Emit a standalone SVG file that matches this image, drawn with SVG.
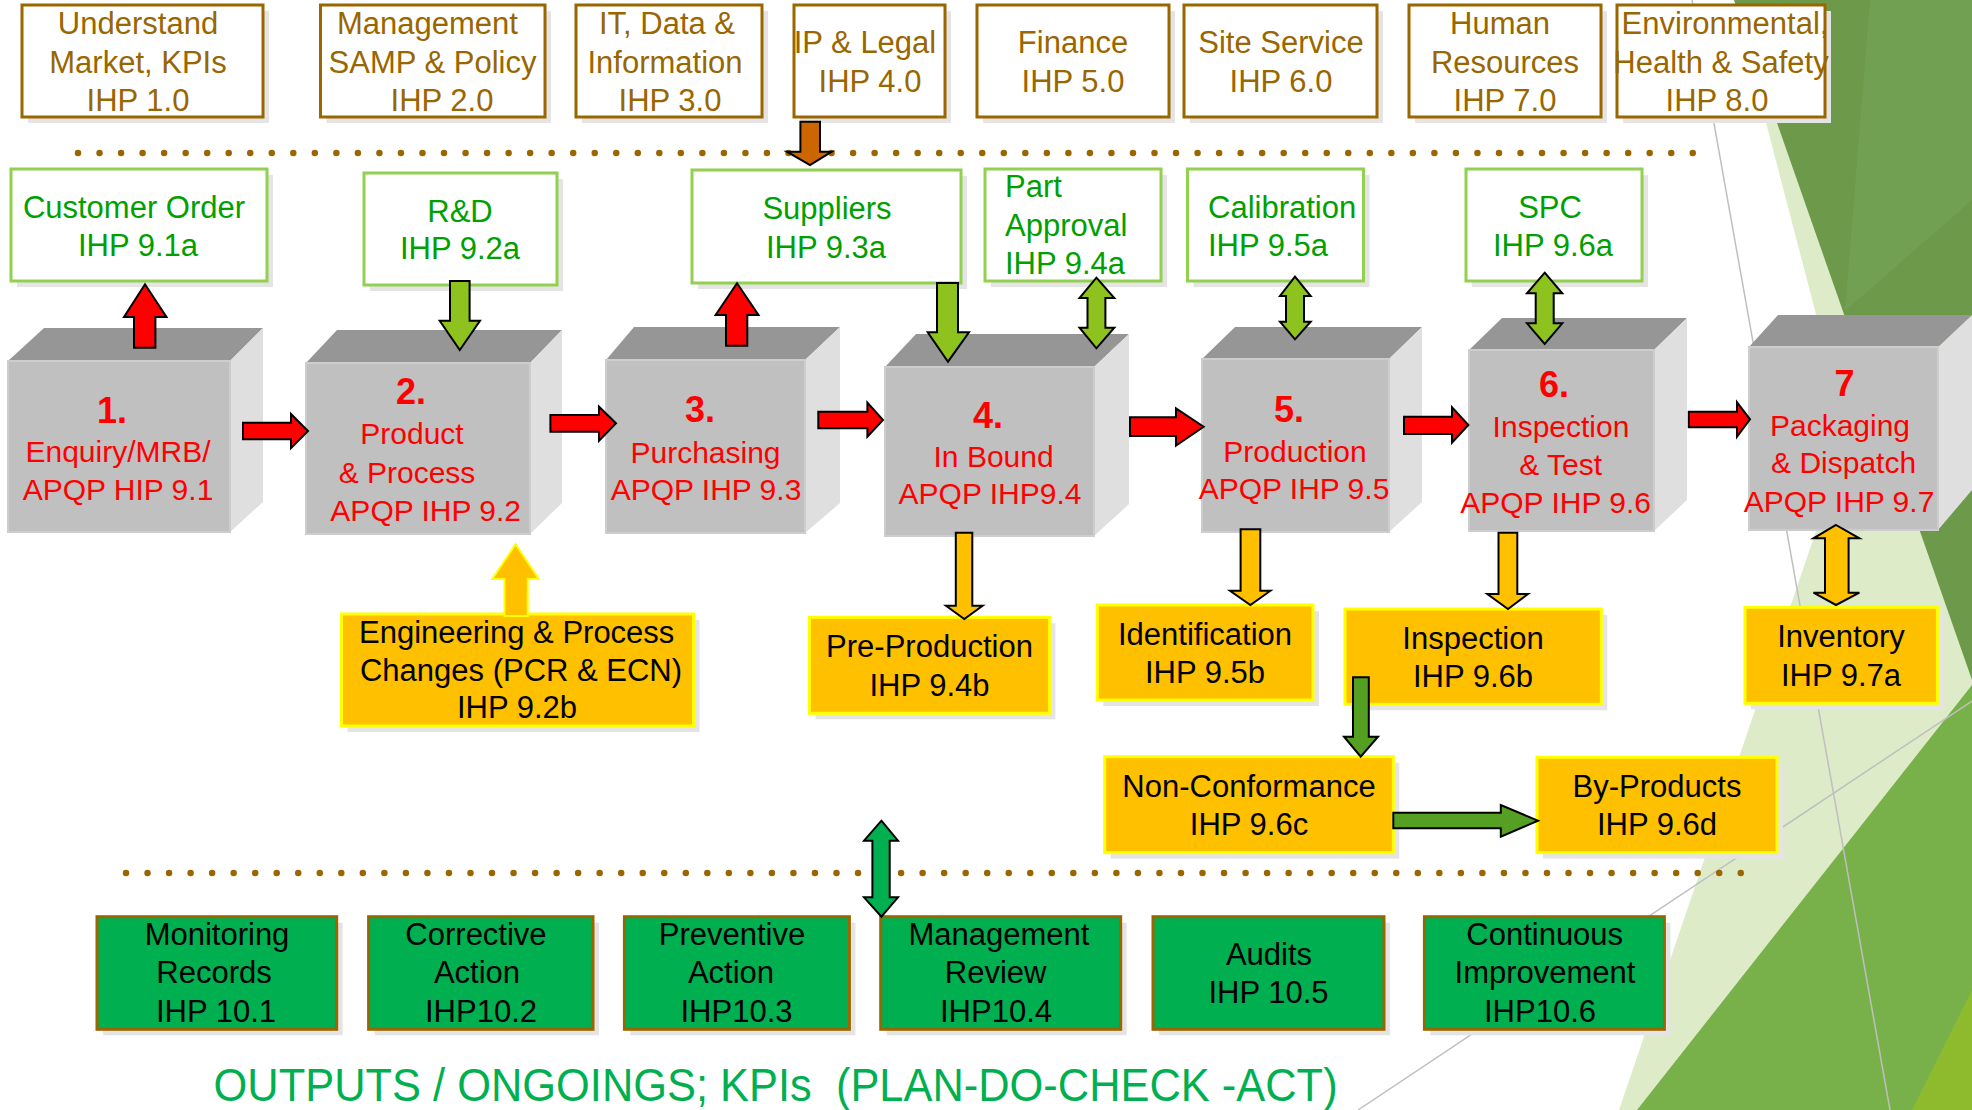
<svg xmlns="http://www.w3.org/2000/svg" width="1972" height="1110" viewBox="0 0 1972 1110">
  <style>
    text { font-family: "Liberation Sans", Arial, sans-serif; text-anchor: middle; }
    .sh { fill: #E4E4E4; }
    .tb { fill: #FFFFFF; stroke: #996600; stroke-width: 3; }
    .tt { font-size: 31px; fill: #996600; }
    .gb { fill: #FFFFFF; stroke: #92D050; stroke-width: 3; }
    .gt { font-size: 31px; fill: #00A000; }
    .ctop { fill: #969696; }
    .cfront { fill: #C0C0C0; stroke: #CDCDCD; stroke-width: 2; }
    .cside { fill: #DFDFDF; }
    .rn { font-size: 36px; font-weight: bold; fill: #FF0000; }
    .rt { font-size: 30px; fill: #FF0000; }
    .yb { fill: #FFC000; stroke: #FFFF00; stroke-width: 3; }
    .kb { fill: #00B050; stroke: #996600; stroke-width: 3; }
    .bt { font-size: 31px; fill: #000000; }
    .dots { fill: none; stroke: #996600; stroke-width: 6.5; stroke-linecap: round; stroke-dasharray: 0 21.53; }
    .ar { stroke: #000000; stroke-width: 2; stroke-linejoin: miter; }
    .red { fill: #FF0000; }
    .lg { fill: #8DC21F; }
    .dg { fill: #55A022; }
    .yl { fill: #FFC000; }
    .kg { fill: #00B050; }
    .br { fill: #CC6600; }
    .bgline { stroke: #BFBFBF; stroke-width: 1.5; fill: none; }
  </style>

  <!-- facet backdrop on the right -->
  <g id="backdrop">
    <rect x="0" y="0" width="1972" height="1110" fill="#FFFFFF"/>
    <polygon points="1734,0 1848,437 1619,1110 1972,1110 1972,0" fill="#DEEBC8"/>
    <polygon points="1734,0 1972,0 1972,680" fill="#6C9A4A"/>
    <polygon points="1870,0 1972,0 1972,200 1845,311" fill="#72A052"/>
    <polygon points="1637,1110 1972,685 1972,1110" fill="#78B04A"/>
    <polygon points="1912,1110 1972,990 1972,1110" fill="#8DBB2D"/>
    <line class="bgline" x1="1692" y1="0" x2="1890" y2="1110"/>
    <line class="bgline" x1="1358" y1="1110" x2="1972" y2="701"/>
  </g>

  <!-- dotted separators -->
  <g id="separators">
    <line class="dots" x1="78" y1="153" x2="1695" y2="153"/>
    <line class="dots" x1="126" y1="873" x2="1744" y2="873"/>
  </g>

  <!-- top row: support processes -->
  <g id="ihp-1-0">
    <rect class="sh" x="28" y="11" width="241" height="112"/>
    <rect class="tb" x="22" y="5" width="241" height="112"/>
    <text class="tt" x="138" y="34">Understand</text>
    <text class="tt" x="138" y="72.5">Market, KPIs</text>
    <text class="tt" x="138" y="110.5">IHP 1.0</text>
  </g>
  <g id="ihp-2-0">
    <rect class="sh" x="326.5" y="11" width="224.5" height="112"/>
    <rect class="tb" x="320.5" y="5" width="224.5" height="112"/>
    <text class="tt" x="427.5" y="34">Management</text>
    <text class="tt" x="432.5" y="72.5">SAMP &amp; Policy</text>
    <text class="tt" x="442" y="110.5">IHP 2.0</text>
  </g>
  <g id="ihp-3-0">
    <rect class="sh" x="582" y="11" width="186" height="112"/>
    <rect class="tb" x="576" y="5" width="186" height="112"/>
    <text class="tt" x="667" y="34">IT, Data &amp;</text>
    <text class="tt" x="665" y="72.5">Information</text>
    <text class="tt" x="670" y="110.5">IHP 3.0</text>
  </g>
  <g id="ihp-4-0">
    <rect class="sh" x="800" y="11" width="151" height="112"/>
    <rect class="tb" x="794" y="5" width="151" height="112"/>
    <text class="tt" x="865" y="53">IP &amp; Legal</text>
    <text class="tt" x="870" y="91.5">IHP 4.0</text>
  </g>
  <g id="ihp-5-0">
    <rect class="sh" x="983" y="11" width="192" height="112"/>
    <rect class="tb" x="977" y="5" width="192" height="112"/>
    <text class="tt" x="1073" y="53">Finance</text>
    <text class="tt" x="1073" y="91.5">IHP 5.0</text>
  </g>
  <g id="ihp-6-0">
    <rect class="sh" x="1190" y="11" width="193" height="112"/>
    <rect class="tb" x="1184" y="5" width="193" height="112"/>
    <text class="tt" x="1281" y="53">Site Service</text>
    <text class="tt" x="1281" y="91.5">IHP 6.0</text>
  </g>
  <g id="ihp-7-0">
    <rect class="sh" x="1415" y="11" width="192" height="112"/>
    <rect class="tb" x="1409" y="5" width="192" height="112"/>
    <text class="tt" x="1500" y="34">Human</text>
    <text class="tt" x="1505" y="72.5">Resources</text>
    <text class="tt" x="1505" y="110.5">IHP 7.0</text>
  </g>
  <g id="ihp-8-0">
    <rect class="sh" x="1623" y="11" width="208" height="112"/>
    <rect class="tb" x="1617" y="5" width="208" height="112"/>
    <text class="tt" x="1725" y="34">Environmental,</text>
    <text class="tt" x="1721" y="72.5">Health &amp; Safety</text>
    <text class="tt" x="1717" y="110.5">IHP 8.0</text>
  </g>

  <!-- second row: interfaces -->
  <g id="ihp-9-1a">
    <rect class="sh" x="17" y="175" width="256" height="112"/>
    <rect class="gb" x="11" y="169" width="256" height="112"/>
    <text class="gt" x="134" y="218">Customer Order</text>
    <text class="gt" x="138" y="256">IHP 9.1a</text>
  </g>
  <g id="ihp-9-2a">
    <rect class="sh" x="370" y="179" width="193" height="112"/>
    <rect class="gb" x="364" y="173" width="193" height="112"/>
    <text class="gt" x="460" y="221.7">R&amp;D</text>
    <text class="gt" x="460" y="259">IHP 9.2a</text>
  </g>
  <g id="ihp-9-3a">
    <rect class="sh" x="698" y="176" width="269" height="113"/>
    <rect class="gb" x="692" y="170" width="269" height="113"/>
    <text class="gt" x="827" y="219">Suppliers</text>
    <text class="gt" x="826" y="257.7">IHP 9.3a</text>
  </g>
  <g id="ihp-9-4a">
    <rect class="sh" x="991" y="175" width="176" height="112"/>
    <rect class="gb" x="985" y="169" width="176" height="112"/>
    <text class="gt" x="1005" y="197" style="text-anchor:start">Part</text>
    <text class="gt" x="1005" y="235.7" style="text-anchor:start">Approval</text>
    <text class="gt" x="1005" y="274" style="text-anchor:start">IHP 9.4a</text>
  </g>
  <g id="ihp-9-5a">
    <rect class="sh" x="1193.5" y="175" width="176" height="112"/>
    <rect class="gb" x="1187.5" y="169" width="176" height="112"/>
    <text class="gt" x="1208" y="218" style="text-anchor:start">Calibration</text>
    <text class="gt" x="1208" y="256" style="text-anchor:start">IHP 9.5a</text>
  </g>
  <g id="ihp-9-6a">
    <rect class="sh" x="1472" y="175" width="176" height="112"/>
    <rect class="gb" x="1466" y="169" width="176" height="112"/>
    <text class="gt" x="1550" y="218">SPC</text>
    <text class="gt" x="1553" y="256">IHP 9.6a</text>
  </g>

  <!-- third row: core process blocks -->
  <g id="step-1">
    <polygon class="ctop" points="8,361 44,328 263,328 230,361"/>
    <polygon class="cside" points="230,361 263,328 263,502 230,532"/>
    <rect class="cfront" x="8" y="361" width="222" height="171"/>
    <text class="rn" x="112" y="422.7">1.</text>
    <text class="rt" x="118" y="461.7">Enquiry/MRB/</text>
    <text class="rt" x="118" y="500">APQP HIP 9.1</text>
  </g>
  <g id="step-2">
    <polygon class="ctop" points="306,363 337,330 562,330 530,363"/>
    <polygon class="cside" points="530,363 562,330 562,503 530,534"/>
    <rect class="cfront" x="306" y="363" width="224" height="171"/>
    <text class="rn" x="411" y="404.3">2.</text>
    <text class="rt" x="412" y="444">Product</text>
    <text class="rt" x="407" y="482.7">&amp; Process</text>
    <text class="rt" x="425.7" y="520.7">APQP IHP 9.2</text>
  </g>
  <g id="step-3">
    <polygon class="ctop" points="606,360 634,327 840,327 805,360"/>
    <polygon class="cside" points="805,360 840,327 840,503 805,533"/>
    <rect class="cfront" x="606" y="360" width="199" height="173"/>
    <text class="rn" x="700" y="421.7">3.</text>
    <text class="rt" x="705.5" y="463">Purchasing</text>
    <text class="rt" x="706" y="500">APQP IHP 9.3</text>
  </g>
  <g id="step-4">
    <polygon class="ctop" points="885,367 916,334 1129,334 1094,367"/>
    <polygon class="cside" points="1094,367 1129,334 1129,504 1094,536"/>
    <rect class="cfront" x="885" y="367" width="209" height="169"/>
    <text class="rn" x="988" y="428.3">4.</text>
    <text class="rt" x="993.6" y="466.7">In Bound</text>
    <text class="rt" x="990" y="504">APQP IHP9.4</text>
  </g>
  <g id="step-5">
    <polygon class="ctop" points="1202,359 1235,327 1422,327 1389,359"/>
    <polygon class="cside" points="1389,359 1422,327 1422,502 1389,532"/>
    <rect class="cfront" x="1202" y="359" width="187" height="173"/>
    <text class="rn" x="1289" y="421.7">5.</text>
    <text class="rt" x="1295" y="461.7">Production</text>
    <text class="rt" x="1294" y="499.3">APQP IHP 9.5</text>
  </g>
  <g id="step-6">
    <polygon class="ctop" points="1469,350 1502,318 1687,318 1654,350"/>
    <polygon class="cside" points="1654,350 1687,318 1687,500 1654,531"/>
    <rect class="cfront" x="1469" y="350" width="185" height="181"/>
    <text class="rn" x="1554" y="397.3">6.</text>
    <text class="rt" x="1561" y="436.7">Inspection</text>
    <text class="rt" x="1560.6" y="475">&amp; Test</text>
    <text class="rt" x="1555.6" y="512.7">APQP IHP 9.6</text>
  </g>
  <g id="step-7">
    <polygon class="ctop" points="1749,347 1778,315 1972,315 1938,347"/>
    <polygon class="cside" points="1938,347 1972,315 1972,490 1938,530"/>
    <rect class="cfront" x="1749" y="347" width="189" height="183"/>
    <text class="rn" x="1844.6" y="396">7</text>
    <text class="rt" x="1840" y="436">Packaging</text>
    <text class="rt" x="1843.6" y="473.3">&amp; Dispatch</text>
    <text class="rt" x="1839" y="511.7">APQP IHP 9.7</text>
  </g>

  <!-- fourth row: supporting records -->
  <g id="ihp-9-2b">
    <rect class="sh" x="347.5" y="620" width="352" height="112"/>
    <rect class="yb" x="341.5" y="614" width="352" height="112"/>
    <text class="bt" x="516.7" y="642.7">Engineering &amp; Process</text>
    <text class="bt" x="521" y="681">Changes (PCR &amp; ECN)</text>
    <text class="bt" x="517" y="718.3">IHP 9.2b</text>
  </g>
  <g id="ihp-9-4b">
    <rect class="sh" x="815.4" y="623.3" width="240" height="96"/>
    <rect class="yb" x="809.4" y="617.3" width="240" height="96"/>
    <text class="bt" x="929.5" y="657.3">Pre-Production</text>
    <text class="bt" x="929.5" y="696">IHP 9.4b</text>
  </g>
  <g id="ihp-9-5b">
    <rect class="sh" x="1103.3" y="611" width="215.7" height="95"/>
    <rect class="yb" x="1097.3" y="605" width="215.7" height="95"/>
    <text class="bt" x="1205" y="645">Identification</text>
    <text class="bt" x="1205" y="683.3">IHP 9.5b</text>
  </g>
  <g id="ihp-9-6b">
    <rect class="sh" x="1351" y="615" width="256.3" height="95.3"/>
    <rect class="yb" x="1345" y="609" width="256.3" height="95.3"/>
    <text class="bt" x="1473" y="649.3">Inspection</text>
    <text class="bt" x="1473" y="687.3">IHP 9.6b</text>
  </g>
  <g id="ihp-9-7a">
    <rect class="sh" x="1751" y="613.3" width="192.4" height="96"/>
    <rect class="yb" x="1745" y="607.3" width="192.4" height="96"/>
    <text class="bt" x="1841" y="646.7">Inventory</text>
    <text class="bt" x="1841" y="686">IHP 9.7a</text>
  </g>
  <g id="ihp-9-6c">
    <rect class="sh" x="1110.7" y="762.7" width="288.6" height="96"/>
    <rect class="yb" x="1104.7" y="756.7" width="288.6" height="96"/>
    <text class="bt" x="1249" y="797.3">Non-Conformance</text>
    <text class="bt" x="1249" y="835">IHP 9.6c</text>
  </g>
  <g id="ihp-9-6d">
    <rect class="sh" x="1543" y="763.3" width="240" height="95.3"/>
    <rect class="yb" x="1537" y="757.3" width="240" height="95.3"/>
    <text class="bt" x="1657" y="797.3">By-Products</text>
    <text class="bt" x="1657" y="835">IHP 9.6d</text>
  </g>

  <!-- bottom row: outputs -->
  <g id="ihp-10-1">
    <rect class="sh" x="103" y="922.7" width="239.7" height="112.6"/>
    <rect class="kb" x="97" y="916.7" width="239.7" height="112.6"/>
    <text class="bt" x="217" y="945">Monitoring</text>
    <text class="bt" x="214" y="983.3">Records</text>
    <text class="bt" x="216" y="1021.7">IHP 10.1</text>
  </g>
  <g id="ihp-10-2">
    <rect class="sh" x="374.6" y="922.7" width="224.4" height="112.6"/>
    <rect class="kb" x="368.6" y="916.7" width="224.4" height="112.6"/>
    <text class="bt" x="476" y="945">Corrective</text>
    <text class="bt" x="477" y="983.3">Action</text>
    <text class="bt" x="481" y="1021.7">IHP10.2</text>
  </g>
  <g id="ihp-10-3">
    <rect class="sh" x="630.4" y="922.7" width="225" height="112.6"/>
    <rect class="kb" x="624.4" y="916.7" width="225" height="112.6"/>
    <text class="bt" x="732" y="945">Preventive</text>
    <text class="bt" x="731" y="983.3">Action</text>
    <text class="bt" x="736.5" y="1021.7">IHP10.3</text>
  </g>
  <g id="ihp-10-4">
    <rect class="sh" x="886.7" y="922.7" width="240" height="112.6"/>
    <rect class="kb" x="880.7" y="916.7" width="240" height="112.6"/>
    <text class="bt" x="999" y="945">Management</text>
    <text class="bt" x="995.6" y="983.3">Review</text>
    <text class="bt" x="996" y="1021.7">IHP10.4</text>
  </g>
  <g id="ihp-10-5">
    <rect class="sh" x="1159" y="922.7" width="231" height="112.6"/>
    <rect class="kb" x="1153" y="916.7" width="231" height="112.6"/>
    <text class="bt" x="1269" y="965">Audits</text>
    <text class="bt" x="1268.5" y="1002.7">IHP 10.5</text>
  </g>
  <g id="ihp-10-6">
    <rect class="sh" x="1430.4" y="922.7" width="240" height="112.6"/>
    <rect class="kb" x="1424.4" y="916.7" width="240" height="112.6"/>
    <text class="bt" x="1544.7" y="945">Continuous</text>
    <text class="bt" x="1545" y="983.3">Improvement</text>
    <text class="bt" x="1540" y="1021.7">IHP10.6</text>
  </g>

  <!-- connectors -->
  <g id="connectors">
    <!-- legal input down onto the supplier line -->
    <polygon class="ar br" points="800.4,121.7 820,121.7 820,151.7 831.7,151.7 810,165 787,151.7 800.4,151.7"/>
    <!-- process flow -->
    <polygon class="ar red" points="243,422.7 291,422.7 291,414 308,431 291,448 291,439.3 243,439.3"/>
    <polygon class="ar red" points="550.4,415 599,415 599,406.7 616,423.3 599,440.7 599,431.7 550.4,431.7"/>
    <polygon class="ar red" points="818.3,411.7 867.4,411.7 867.4,402.7 883,420 867.4,436.7 867.4,428.3 818.3,428.3"/>
    <polygon class="ar red" points="1130,417.3 1176,417.3 1176,408.3 1203.6,426.7 1176,445.7 1176,436 1130,436"/>
    <polygon class="ar red" points="1404,416.7 1452,416.7 1452,407.3 1468.4,425 1452,442.7 1452,434 1404,434"/>
    <polygon class="ar red" points="1688.8,411.7 1737,411.7 1737,402.3 1750,419.3 1737,436.7 1737,427.3 1688.8,427.3"/>
    <!-- outputs up to customer order and suppliers -->
    <polygon class="ar red" points="134,347.7 134,317 124,317 145,284.3 166.5,317 155.4,317 155.4,347.7"/>
    <polygon class="ar red" points="726,345.7 726,315 715.6,315 737,283.3 758.5,315 747.3,315 747.3,345.7"/>
    <!-- inputs from R&D and suppliers -->
    <polygon class="ar lg" points="450,281 469.6,281 469.6,320.7 480,320.7 459.8,350 439.7,320.7 450,320.7"/>
    <polygon class="ar lg" points="937,283 958,283 958,332.3 969,332.3 948,361.7 927.7,332.3 937,332.3"/>
    <!-- two-way links -->
    <polygon class="ar lg" points="1096.4,277.7 1114.3,298 1105.4,298 1105.4,327.7 1114.3,327.7 1096.4,348.3 1079.5,327.7 1087.5,327.7 1087.5,298 1079.5,298"/>
    <polygon class="ar lg" points="1295,276.7 1310.7,296 1304,296 1304,321.7 1310.7,321.7 1295,339.3 1280,321.7 1286,321.7 1286,296 1280,296"/>
    <polygon class="ar lg" points="1544.7,272.7 1562.3,293.3 1553.7,293.3 1553.7,323.3 1562.3,323.3 1544.7,344 1527,323.3 1535.7,323.3 1535.7,293.3 1527,293.3"/>
    <!-- downward records -->
    <polygon class="ar yl" points="955.8,532.7 972.3,532.7 972.3,605.7 982.6,605.7 964.3,619 946,605.7 955.8,605.7"/>
    <polygon class="ar yl" points="1240.6,529.3 1260.3,529.3 1260.3,590.7 1270.5,590.7 1250.4,605 1230,590.7 1240.6,590.7"/>
    <polygon class="ar yl" points="1498.5,532.7 1517.3,532.7 1517.3,594 1528,594 1508,609 1487.3,594 1498.5,594"/>
    <polygon class="ar yl" points="1836,525 1859.4,538.3 1848.6,538.3 1848.6,592.7 1859.4,592.7 1836,605 1813.5,592.7 1825,592.7 1825,538.3 1813.5,538.3"/>
    <!-- change requests up into product & process -->
    <polygon class="yl" stroke="#FFFF00" stroke-width="2" points="504.5,616 504.5,579 492.4,579 515.6,544.3 538.8,579 527.7,579 527.7,616"/>
    <!-- non-conformance chain -->
    <polygon class="ar dg" points="1353,677.3 1368.8,677.3 1368.8,736.7 1378,736.7 1360.7,756.7 1344,736.7 1353,736.7"/>
    <polygon class="ar dg" points="1393.3,812.7 1500.8,812.7 1500.8,805 1538,820.7 1500.8,836.7 1500.8,828.3 1393.3,828.3"/>
    <!-- review link to the outputs row -->
    <polygon class="ar kg" points="881.4,820.7 898,840.7 889.7,840.7 889.7,897.3 898,897.3 881.4,916.7 864,897.3 872.4,897.3 872.4,840.7 864,840.7"/>
  </g>

  <text id="caption" x="213.6" y="1100.7" xml:space="preserve" textLength="1124" lengthAdjust="spacingAndGlyphs" style="text-anchor:start; font-size:46px; fill:#00B050">OUTPUTS / ONGOINGS; KPIs  (PLAN-DO-CHECK -ACT)</text>
</svg>
